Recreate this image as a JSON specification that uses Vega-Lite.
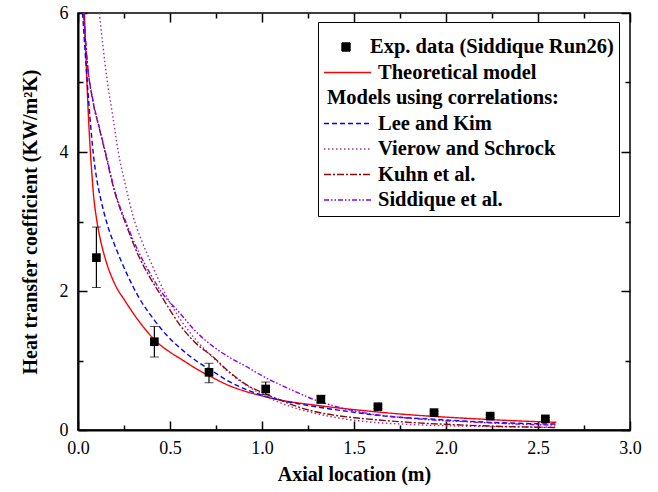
{
  "$schema": "https://vega.github.io/schema/vega-lite/v6.json",
  "width": 552,
  "height": 417,
  "autosize": {"type": "none"},
  "padding": {"left": 78, "top": 13, "right": 28, "bottom": 62},
  "config": {
    "font": "Liberation Serif",
    "view": {"stroke": "black", "strokeWidth": 1.5},
    "axis": {"grid": false, "domainColor": "black", "domainWidth": 2, "tickColor": "black", "tickWidth": 1.5, "labelColor": "black", "titleColor": "black", "labelFont": "Liberation Serif", "titleFont": "Liberation Serif"},
    "legend": {"labelFont": "Liberation Serif", "titleFont": "Liberation Serif"}
  },
  "datasets": {
    "exp": [
      {"x": 0.1, "y": 2.48, "lo": 2.05, "hi": 2.92},
      {"x": 0.415, "y": 1.27, "lo": 1.05, "hi": 1.49},
      {"x": 0.712, "y": 0.83, "lo": 0.68, "hi": 0.96},
      {"x": 1.02, "y": 0.59, "lo": 0.51, "hi": 0.69},
      {"x": 1.32, "y": 0.44, "lo": 0.39, "hi": 0.5},
      {"x": 1.63, "y": 0.335, "lo": 0.31, "hi": 0.36},
      {"x": 1.935, "y": 0.25, "lo": 0.23, "hi": 0.27},
      {"x": 2.24, "y": 0.2, "lo": 0.18, "hi": 0.22},
      {"x": 2.54, "y": 0.16, "lo": 0.14, "hi": 0.18}
    ],
    "curves": [
      {"series": "Theoretical model", "x": 0.035, "y": 6.0},
      {"series": "Theoretical model", "x": 0.045, "y": 5.25},
      {"series": "Theoretical model", "x": 0.056, "y": 4.55},
      {"series": "Theoretical model", "x": 0.065, "y": 4.1},
      {"series": "Theoretical model", "x": 0.075, "y": 3.7},
      {"series": "Theoretical model", "x": 0.083, "y": 3.42},
      {"series": "Theoretical model", "x": 0.1, "y": 3.05},
      {"series": "Theoretical model", "x": 0.12, "y": 2.76},
      {"series": "Theoretical model", "x": 0.15, "y": 2.45},
      {"series": "Theoretical model", "x": 0.2, "y": 2.1},
      {"series": "Theoretical model", "x": 0.255, "y": 1.86},
      {"series": "Theoretical model", "x": 0.3, "y": 1.68},
      {"series": "Theoretical model", "x": 0.35, "y": 1.5},
      {"series": "Theoretical model", "x": 0.415, "y": 1.3},
      {"series": "Theoretical model", "x": 0.5, "y": 1.12},
      {"series": "Theoretical model", "x": 0.554, "y": 1.03},
      {"series": "Theoretical model", "x": 0.65, "y": 0.87},
      {"series": "Theoretical model", "x": 0.735, "y": 0.75},
      {"series": "Theoretical model", "x": 0.82, "y": 0.64},
      {"series": "Theoretical model", "x": 0.917, "y": 0.55},
      {"series": "Theoretical model", "x": 1.0, "y": 0.49},
      {"series": "Theoretical model", "x": 1.1, "y": 0.43},
      {"series": "Theoretical model", "x": 1.28, "y": 0.36},
      {"series": "Theoretical model", "x": 1.53, "y": 0.285},
      {"series": "Theoretical model", "x": 1.8, "y": 0.22},
      {"series": "Theoretical model", "x": 2.1, "y": 0.17},
      {"series": "Theoretical model", "x": 2.4, "y": 0.13},
      {"series": "Theoretical model", "x": 2.6, "y": 0.11},
      {"series": "Lee and Kim", "x": 0.025, "y": 6.0},
      {"series": "Lee and Kim", "x": 0.045, "y": 5.2},
      {"series": "Lee and Kim", "x": 0.065, "y": 4.5},
      {"series": "Lee and Kim", "x": 0.083, "y": 3.98},
      {"series": "Lee and Kim", "x": 0.1, "y": 3.64},
      {"series": "Lee and Kim", "x": 0.123, "y": 3.33},
      {"series": "Lee and Kim", "x": 0.16, "y": 2.95},
      {"series": "Lee and Kim", "x": 0.21, "y": 2.59},
      {"series": "Lee and Kim", "x": 0.265, "y": 2.25},
      {"series": "Lee and Kim", "x": 0.328, "y": 1.92},
      {"series": "Lee and Kim", "x": 0.415, "y": 1.58},
      {"series": "Lee and Kim", "x": 0.48, "y": 1.37},
      {"series": "Lee and Kim", "x": 0.554, "y": 1.18},
      {"series": "Lee and Kim", "x": 0.64, "y": 1.0},
      {"series": "Lee and Kim", "x": 0.735, "y": 0.84},
      {"series": "Lee and Kim", "x": 0.82, "y": 0.7},
      {"series": "Lee and Kim", "x": 0.917, "y": 0.58},
      {"series": "Lee and Kim", "x": 1.0, "y": 0.5},
      {"series": "Lee and Kim", "x": 1.1, "y": 0.43},
      {"series": "Lee and Kim", "x": 1.28, "y": 0.34},
      {"series": "Lee and Kim", "x": 1.53, "y": 0.245},
      {"series": "Lee and Kim", "x": 1.63, "y": 0.21},
      {"series": "Lee and Kim", "x": 1.93, "y": 0.155},
      {"series": "Lee and Kim", "x": 2.24, "y": 0.11},
      {"series": "Lee and Kim", "x": 2.6, "y": 0.085},
      {"series": "Vierow and Schrock", "x": 0.116, "y": 6.0},
      {"series": "Vierow and Schrock", "x": 0.156, "y": 5.08},
      {"series": "Vierow and Schrock", "x": 0.19, "y": 4.5},
      {"series": "Vierow and Schrock", "x": 0.219, "y": 4.0},
      {"series": "Vierow and Schrock", "x": 0.26, "y": 3.5},
      {"series": "Vierow and Schrock", "x": 0.3, "y": 3.07},
      {"series": "Vierow and Schrock", "x": 0.345, "y": 2.73},
      {"series": "Vierow and Schrock", "x": 0.39, "y": 2.45},
      {"series": "Vierow and Schrock", "x": 0.482, "y": 1.92},
      {"series": "Vierow and Schrock", "x": 0.554, "y": 1.6},
      {"series": "Vierow and Schrock", "x": 0.64, "y": 1.3},
      {"series": "Vierow and Schrock", "x": 0.735, "y": 1.04},
      {"series": "Vierow and Schrock", "x": 0.82, "y": 0.83},
      {"series": "Vierow and Schrock", "x": 0.917, "y": 0.64},
      {"series": "Vierow and Schrock", "x": 1.0, "y": 0.51},
      {"series": "Vierow and Schrock", "x": 1.1, "y": 0.39},
      {"series": "Vierow and Schrock", "x": 1.2, "y": 0.3},
      {"series": "Vierow and Schrock", "x": 1.28, "y": 0.245},
      {"series": "Vierow and Schrock", "x": 1.4, "y": 0.18},
      {"series": "Vierow and Schrock", "x": 1.53, "y": 0.13},
      {"series": "Vierow and Schrock", "x": 1.8, "y": 0.08},
      {"series": "Vierow and Schrock", "x": 2.1, "y": 0.055},
      {"series": "Vierow and Schrock", "x": 2.4, "y": 0.045},
      {"series": "Vierow and Schrock", "x": 2.6, "y": 0.04},
      {"series": "Kuhn et al.", "x": 0.03, "y": 6.0},
      {"series": "Kuhn et al.", "x": 0.05, "y": 5.3},
      {"series": "Kuhn et al.", "x": 0.083, "y": 4.7},
      {"series": "Kuhn et al.", "x": 0.115, "y": 4.35},
      {"series": "Kuhn et al.", "x": 0.147, "y": 4.0},
      {"series": "Kuhn et al.", "x": 0.2, "y": 3.42},
      {"series": "Kuhn et al.", "x": 0.265, "y": 2.93},
      {"series": "Kuhn et al.", "x": 0.33, "y": 2.5},
      {"series": "Kuhn et al.", "x": 0.39, "y": 2.2},
      {"series": "Kuhn et al.", "x": 0.455, "y": 1.92},
      {"series": "Kuhn et al.", "x": 0.554, "y": 1.51},
      {"series": "Kuhn et al.", "x": 0.64, "y": 1.25},
      {"series": "Kuhn et al.", "x": 0.735, "y": 1.05},
      {"series": "Kuhn et al.", "x": 0.82, "y": 0.84},
      {"series": "Kuhn et al.", "x": 0.917, "y": 0.65},
      {"series": "Kuhn et al.", "x": 1.0, "y": 0.54},
      {"series": "Kuhn et al.", "x": 1.1, "y": 0.43},
      {"series": "Kuhn et al.", "x": 1.2, "y": 0.33},
      {"series": "Kuhn et al.", "x": 1.28, "y": 0.27},
      {"series": "Kuhn et al.", "x": 1.4, "y": 0.21},
      {"series": "Kuhn et al.", "x": 1.53, "y": 0.17},
      {"series": "Kuhn et al.", "x": 1.8, "y": 0.11},
      {"series": "Kuhn et al.", "x": 2.1, "y": 0.07},
      {"series": "Kuhn et al.", "x": 2.4, "y": 0.045},
      {"series": "Kuhn et al.", "x": 2.6, "y": 0.035},
      {"series": "Siddique et al.", "x": 0.03, "y": 6.0},
      {"series": "Siddique et al.", "x": 0.05, "y": 5.3},
      {"series": "Siddique et al.", "x": 0.083, "y": 4.72},
      {"series": "Siddique et al.", "x": 0.115, "y": 4.36},
      {"series": "Siddique et al.", "x": 0.147, "y": 4.02},
      {"series": "Siddique et al.", "x": 0.2, "y": 3.44},
      {"series": "Siddique et al.", "x": 0.265, "y": 2.96},
      {"series": "Siddique et al.", "x": 0.33, "y": 2.56},
      {"series": "Siddique et al.", "x": 0.39, "y": 2.26},
      {"series": "Siddique et al.", "x": 0.455, "y": 1.98},
      {"series": "Siddique et al.", "x": 0.554, "y": 1.68},
      {"series": "Siddique et al.", "x": 0.64, "y": 1.42},
      {"series": "Siddique et al.", "x": 0.735, "y": 1.2},
      {"series": "Siddique et al.", "x": 0.82, "y": 1.05},
      {"series": "Siddique et al.", "x": 0.917, "y": 0.91},
      {"series": "Siddique et al.", "x": 1.0, "y": 0.78},
      {"series": "Siddique et al.", "x": 1.1, "y": 0.65},
      {"series": "Siddique et al.", "x": 1.2, "y": 0.53},
      {"series": "Siddique et al.", "x": 1.28, "y": 0.44},
      {"series": "Siddique et al.", "x": 1.4, "y": 0.34},
      {"series": "Siddique et al.", "x": 1.53, "y": 0.26},
      {"series": "Siddique et al.", "x": 1.8, "y": 0.17},
      {"series": "Siddique et al.", "x": 2.1, "y": 0.12},
      {"series": "Siddique et al.", "x": 2.4, "y": 0.085},
      {"series": "Siddique et al.", "x": 2.6, "y": 0.07}
    ]
  },
  "resolve": {"axis": {"x": "independent", "y": "independent"}},
  "layer": [
    {
      "data": {"name": "curves"},
      "mark": {"type": "line", "strokeWidth": 1.4, "clip": true, "interpolate": "monotone"},
      "encoding": {
        "x": {
          "field": "x", "type": "quantitative",
          "scale": {"domain": [0, 3], "nice": false, "zero": false},
          "axis": {
            "orient": "bottom",
            "title": "Axial location (m)", "titleFontSize": 20, "titleFontWeight": "bold", "titlePadding": 7,
            "values": [0, 0.5, 1, 1.5, 2, 2.5, 3], "format": ".1f",
            "labelFontSize": 18, "labelPadding": 18, "labelFlush": false, "labelOverlap": false,
            "tickSize": -9
          }
        },
        "y": {
          "field": "y", "type": "quantitative",
          "scale": {"domain": [0, 6], "nice": false},
          "axis": {
            "orient": "left",
            "title": "Heat transfer coefficient (KW/m²K)", "titleFontSize": 20, "titleFontWeight": "bold", "titlePadding": 19,
            "values": [0, 2, 4, 6], "format": "d",
            "labelFontSize": 18, "labelPadding": 19, "labelOverlap": false, "labelFlush": false,
            "tickSize": -9
          }
        },
        "color": {
          "field": "series", "type": "nominal",
          "scale": {
            "domain": ["Exp. data (Siddique Run26)", "Theoretical model", "Models using correlations:", "Lee and Kim", "Vierow and Schrock", "Kuhn et al.", "Siddique et al."],
            "range": ["#000000", "#ff0000", "transparent", "#0000ff", "#993399", "#8b0a0a", "#8000ff"]
          },
          "legend": {
            "orient": "none", "legendX": 240, "legendY": 9, "title": " ",
            "titleFontSize": 6, "titlePadding": 3,
            "strokeColor": "black", "padding": 5, "fillColor": "white",
            "labelFont": "Liberation Serif", "labelFontSize": 20.5, "labelFontWeight": "bold", "labelColor": "black",
            "labelLimit": 400, "labelOffset": 33, "rowPadding": 3.5,
            "symbolSize": 400, "symbolStrokeWidth": 1.4, "symbolType": "M-1,0H3.7",
            "encode": {
              "symbols": {"update": {
                "shape": {"signal": "datum.value == 'Exp. data (Siddique Run26)' ? 'M0.8,-0.4H1.6V0.4H0.8Z' : 'M-1,0H3.7'"},
                "fill": {"signal": "datum.value == 'Exp. data (Siddique Run26)' ? 'black' : 'transparent'"}
              }},
              "labels": {"update": {
                "dx": {"signal": "datum.value == 'Models using correlations:' ? -51 : datum.value == 'Exp. data (Siddique Run26)' ? -8 : 0"}
              }}
            }
          }
        },
        "strokeDash": {
          "field": "series", "type": "nominal",
          "scale": {
            "domain": ["Exp. data (Siddique Run26)", "Theoretical model", "Models using correlations:", "Lee and Kim", "Vierow and Schrock", "Kuhn et al.", "Siddique et al."],
            "range": [[1, 0], [1, 0], [1, 0], [5, 3], [1.5, 2.5], [7, 2, 2, 2], [5, 2, 1.5, 2, 1.5, 2]]
          },
          "legend": {
            "orient": "none", "legendX": 240, "legendY": 9, "title": " "
          }
        }
      }
    },
    {
      "data": {"name": "exp"},
      "mark": {"type": "errorbar", "ticks": {"size": 9, "color": "black"}, "rule": {"color": "black", "strokeWidth": 1.2}},
      "encoding": {
        "x": {"field": "x", "type": "quantitative", "axis": null},
        "y": {"field": "lo", "type": "quantitative", "axis": null},
        "y2": {"field": "hi"}
      }
    },
    {
      "data": {"name": "exp"},
      "mark": {"type": "point", "shape": "square", "filled": true, "size": 75, "opacity": 1, "color": "black"},
      "encoding": {
        "x": {"field": "x", "type": "quantitative", "axis": null},
        "y": {"field": "y", "type": "quantitative", "axis": null}
      }
    },
    {
      "data": {"name": "exp"},
      "mark": {"type": "point", "opacity": 0},
      "encoding": {
        "x": {
          "field": "x", "type": "quantitative",
          "axis": {"orient": "top", "title": null, "labels": false, "domain": false,
            "values": [0, 0.5, 1, 1.5, 2, 2.5, 3], "tickSize": -9}
        },
        "y": {
          "field": "y", "type": "quantitative",
          "axis": {"orient": "right", "title": null, "labels": false, "domain": false,
            "values": [0, 2, 4, 6], "tickSize": -9}
        }
      }
    },
    {
      "data": {"name": "exp"},
      "mark": {"type": "point", "opacity": 0},
      "encoding": {
        "x": {
          "field": "x", "type": "quantitative",
          "axis": {"orient": "bottom", "title": null, "labels": false, "domain": false,
            "values": [0.25, 0.75, 1.25, 1.75, 2.25, 2.75], "tickSize": -5}
        },
        "y": {
          "field": "y", "type": "quantitative",
          "axis": {"orient": "left", "title": null, "labels": false, "domain": false,
            "values": [1, 3, 5], "tickSize": -5}
        }
      }
    },
    {
      "data": {"name": "exp"},
      "mark": {"type": "point", "opacity": 0},
      "encoding": {
        "x": {
          "field": "x", "type": "quantitative",
          "axis": {"orient": "top", "title": null, "labels": false, "domain": false,
            "values": [0.25, 0.75, 1.25, 1.75, 2.25, 2.75], "tickSize": -5}
        },
        "y": {
          "field": "y", "type": "quantitative",
          "axis": {"orient": "right", "title": null, "labels": false, "domain": false,
            "values": [1, 3, 5], "tickSize": -5}
        }
      }
    }
  ]
}
